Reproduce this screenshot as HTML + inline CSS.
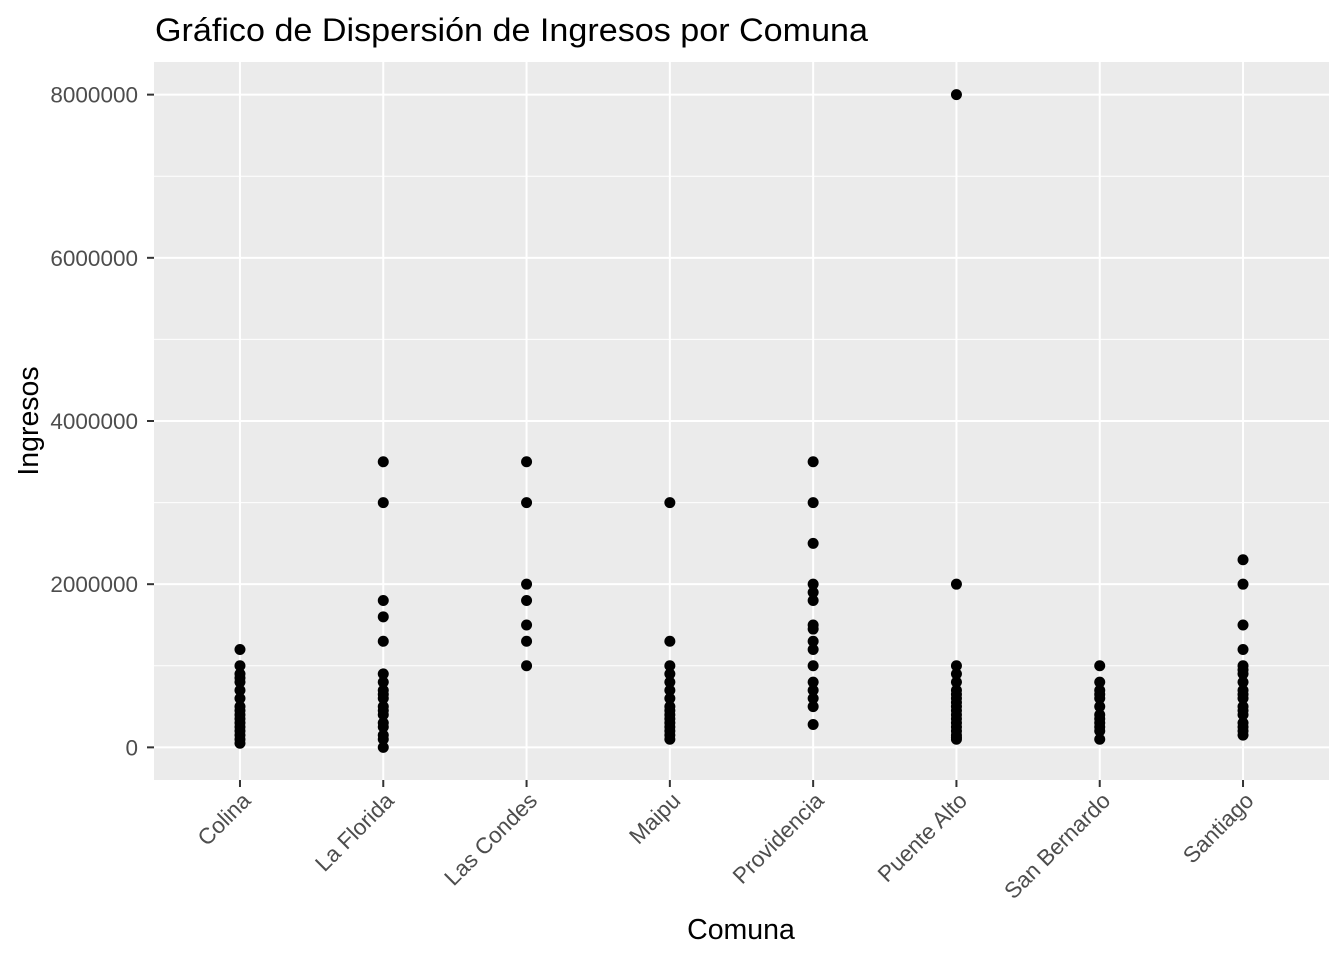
<!DOCTYPE html>
<html><head><meta charset="utf-8"><style>html,body{margin:0;padding:0;background:#fff}svg{display:block}</style></head>
<body>
<svg id="chart" xmlns="http://www.w3.org/2000/svg" width="1344" height="960" viewBox="0 0 1344 960" font-family="Liberation Sans, Arial, sans-serif">
<rect x="0" y="0" width="1344" height="960" fill="#fff"/>
<text x="155" y="41" font-size="32" fill="#000" textLength="713" lengthAdjust="spacingAndGlyphs">Gráfico de Dispersión de Ingresos por Comuna</text>
<rect x="154" y="62" width="1175" height="718" fill="#ebebeb"/>
<g id="grid"></g>
<g id="points"></g>
<g id="axes"></g>
<text x="741" y="939" font-size="28.5" text-anchor="middle" fill="#000">Comuna</text>
<text transform="translate(38,421) rotate(-90)" font-size="28.5" text-anchor="middle" fill="#000">Ingresos</text>
</svg>
<script>
const categories = ["Colina","La Florida","Las Condes","Maipu","Providencia","Puente Alto","San Bernardo","Santiago"];
const yTicks = [0, 2000000, 4000000, 6000000, 8000000];
const yTickLabels = ["0","2000000","4000000","6000000","8000000"];
const colinaVals = [1200000,1000000,900000,850000,800000,700000,600000,500000,450000,400000,350000,300000,250000,200000,150000,100000,50000];
const laFloridaVals = [3500000,3000000,1800000,1600000,1300000,900000,800000,700000,650000,600000,500000,450000,400000,300000,250000,150000,100000,0];
const lasCondesVals = [3500000,3000000,2000000,1800000,1500000,1300000,1000000];
const maipuVals = [3000000,1300000,1000000,900000,800000,700000,600000,500000,450000,400000,350000,300000,250000,200000,150000,100000];
const providenciaVals = [3500000,3000000,2500000,2000000,1900000,1800000,1500000,1450000,1300000,1200000,1000000,800000,700000,600000,500000,280000];
const puenteAltoVals = [8000000,2000000,1000000,900000,800000,700000,650000,600000,550000,500000,450000,400000,350000,300000,250000,200000,150000,120000,100000];
const sanBernardoVals = [1000000,800000,700000,650000,600000,500000,400000,350000,300000,250000,200000,100000];
const santiagoVals = [2300000,2000000,1500000,1200000,1000000,950000,900000,800000,700000,650000,600000,500000,450000,400000,300000,250000,200000,150000];
const seriesVals = [colinaVals,laFloridaVals,lasCondesVals,maipuVals,providenciaVals,puenteAltoVals,sanBernardoVals,santiagoVals];

const NS = "http://www.w3.org/2000/svg";
const pL=154,pR=1329,pT=62,pB=780;
const yMin=-400000,yMax=8400000;
function yScale(v){return pB-(v-yMin)/(yMax-yMin)*(pB-pT);}
const n=categories.length;
function xScale(i){const step=(pR-pL)/(n-1+1.2);return pL+step*0.6+i*step;}
function mk(tag,attrs,parent){const e=document.createElementNS(NS,tag);for(const k in attrs)e.setAttribute(k,attrs[k]);parent.appendChild(e);return e;}
const grid=document.getElementById('grid'),pts=document.getElementById('points'),axes=document.getElementById('axes');
for(let i=0;i<yTicks.length-1;i++){
  const y=yScale((yTicks[i]+yTicks[i+1])/2);
  const l=mk('line',{x1:pL,x2:pR,y1:y,y2:y,stroke:'#fff','stroke-width':1},grid);
  
  
}
yTicks.forEach((t,i)=>{
  const y=yScale(t);
  const l=mk('line',{x1:pL,x2:pR,y1:y,y2:y,stroke:'#fff','stroke-width':2},grid);
  
  
  const tk=mk('line',{x1:pL-7,x2:pL,y1:y,y2:y,stroke:'#333','stroke-width':2},axes);
  
  
  const tx=mk('text',{x:pL-16,y:y+8,'font-size':22.5,'text-anchor':'end',fill:'#4d4d4d'},axes);
  tx.textContent=yTickLabels[i];
  
  
});
categories.forEach((c,i)=>{
  const x=xScale(i);
  const l=mk('line',{x1:x,x2:x,y1:pT,y2:pB,stroke:'#fff','stroke-width':2},grid);
  
  
  const tk=mk('line',{x1:x,x2:x,y1:pB,y2:pB+7,stroke:'#333','stroke-width':2},axes);
  
  
  const tx=mk('text',{transform:'translate('+(x+12)+','+(pB+22)+') rotate(-45)','font-size':22.5,'text-anchor':'end',fill:'#4d4d4d'},axes);
  tx.textContent=c;
  
  
  seriesVals[i].forEach(v=>{
    const p=mk('circle',{cx:x,cy:yScale(v),r:5.5,fill:'#000'},pts);
    
    
  });
});
</script>
</body></html>
